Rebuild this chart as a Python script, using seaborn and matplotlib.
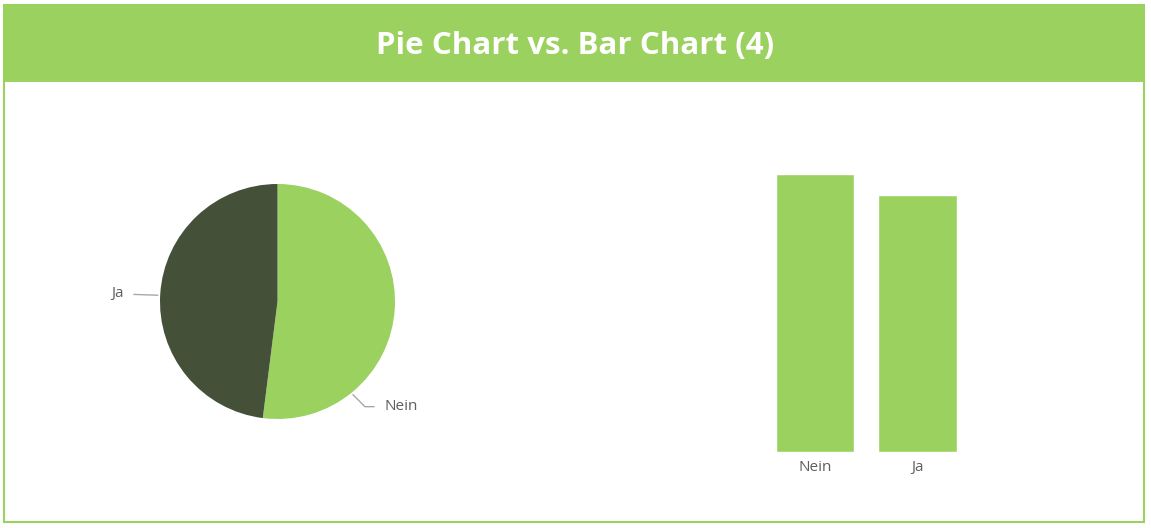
import numpy as np
import pandas as pd
import seaborn as sns
import matplotlib.pyplot as plt
from matplotlib.patches import Rectangle

# data
categories = ['Nein', 'Ja']
values = [52, 48]
pie_colors = ['#9bd15f', '#445038']
bar_color = '#9bd15f'
title = 'Pie Chart vs. Bar Chart (4)'

W, H = 1151, 528
sns.set_style('white')
plt.rcParams['font.family'] = ['Open Sans', 'DejaVu Sans']

fig = plt.figure(figsize=(W / 100, H / 100), dpi=100)

# frame + title banner (behind the axes)
fig.patches.append(Rectangle((4 / W, 1 - 522 / H), 1140 / W, 517 / H, transform=fig.transFigure,
                             facecolor='white', edgecolor='#9bd15f', lw=1.5, zorder=-2))
fig.patches.append(Rectangle((4 / W, 1 - 82 / H), 1140 / W, 77 / H, transform=fig.transFigure,
                             facecolor='#9bd15f', edgecolor='none', zorder=-1))
fig.text(575 / W, 1 - 46 / H, title, ha='center', va='center', color='white',
         fontsize=22.5, fontweight='bold')

# pie
cx, cy, r = 277.5, 301.5, 117.5
ax1 = fig.add_axes([(cx - r) / W, 1 - (cy + r) / H, 2 * r / W, 2 * r / H])
ax1.patch.set_visible(False)
wedges, _ = ax1.pie(values, colors=pie_colors, startangle=90, counterclock=False,
                    radius=1, wedgeprops=dict(linewidth=0))
ax1.set_xlim(-1, 1)
ax1.set_ylim(-1, 1)
ax1.set_aspect('equal')
ax1.axis('off')

# leader-line labels (anchor angle on the rim, text position in data units)
label_pos = {'Ja': (177, (-1.31, 0.065), 'right', 'arc3'),
             'Nein': (-51, (0.91, -0.895), 'left', 'angle,angleA=0,angleB=-45')}
for cat in categories:
    ang, (tx, ty), ha, conn = label_pos[cat]
    x0, y0 = np.cos(np.radians(ang)), np.sin(np.radians(ang))
    ax1.annotate(cat, xy=(x0 * 1.02, y0 * 1.02), xytext=(tx, ty), ha=ha, va='center',
                 fontsize=11, color='#605e5c', annotation_clip=False,
                 arrowprops=dict(arrowstyle='-', color='#a8a8a8', lw=1,
                                 connectionstyle=conn, shrinkA=5, shrinkB=0))

# bars
df = pd.DataFrame({'cat': categories, 'val': values})
ax2 = fig.add_axes([763.75 / W, 76 / H, 205 / W, 320.8 / H])
ax2.patch.set_visible(False)
sns.barplot(data=df, x='cat', y='val', color=bar_color, width=0.77, saturation=1, ax=ax2)
ax2.set_xlim(-0.5, 1.5)
ax2.set_ylim(0, 60)
ax2.set_xlabel('')
ax2.set_ylabel('')
ax2.set_yticks([])
ax2.tick_params(axis='x', length=0, pad=6, labelsize=11, labelcolor='#605e5c')
sns.despine(ax=ax2, left=True, bottom=True)

fig.savefig('out.png', dpi=100)
